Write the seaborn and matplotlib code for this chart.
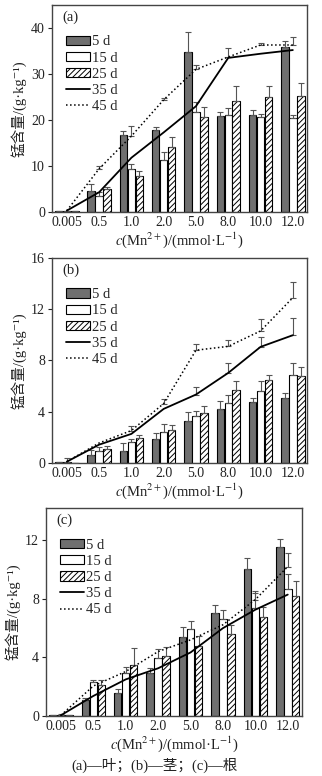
import numpy as np
import pandas as pd
import matplotlib
matplotlib.use("Agg")
import matplotlib.pyplot as plt
import seaborn as sns
from matplotlib.patches import Patch
from matplotlib.lines import Line2D

sns.set_theme(style="white")
plt.rcParams['font.family'] = ['Liberation Serif', 'DejaVu Serif', 'Noto Sans CJK SC']
plt.rcParams['mathtext.fontset'] = 'stix'
plt.rcParams['hatch.linewidth'] = 0.7

categories = ['0.005', '0.5', '1.0', '2.0', '5.0', '8.0', '10.0', '12.0']
bar_series = ['5 d', '15 d', '25 d']
line_series = ['35 d', '45 d']

# (a) leaf
a_bars = {
    '5 d':  [0.2, 4.5, 16.7, 17.8, 34.7, 20.9, 21.1, 35.9],
    '15 d': [0.2, 3.4, 9.4, 11.3, 21.8, 21.1, 20.7, 20.5],
    '25 d': [0.2, 4.9, 7.9, 14.2, 20.7, 24.1, 24.9, 25.2],
}
a_bar_err = {
    '5 d':  [0.0, 1.5, 0.8, 0.7, 4.4, 0.8, 1.0, 1.3],
    '15 d': [0.0, 1.0, 1.1, 1.7, 2.1, 1.4, 0.5, 0.6],
    '25 d': [0.0, 0.6, 1.0, 2.1, 2.1, 3.2, 2.4, 2.9],
}
a_lines = {
    '35 d': [0.3, 4.3, 11.8, 17.3, 23.0, 33.5, 34.4, 35.2],
    '45 d': [0.3, 9.4, 16.5, 24.4, 31.0, 33.7, 36.3, 36.3],
}
a_line_err = {
    '35 d': [0, 0, 0, 0, 0, 0, 0, 0],
    '45 d': [0, 0.5, 2.3, 0.3, 1.0, 2.0, 0.5, 1.8],
}

# (b) stem
b_bars = {
    '5 d':  [0.05, 0.65, 0.96, 1.87, 3.28, 4.22, 4.77, 5.08],
    '15 d': [0.10, 0.90, 1.64, 2.40, 3.65, 4.69, 5.65, 6.85],
    '25 d': [0.02, 1.10, 1.93, 2.55, 3.90, 5.73, 6.51, 6.77],
}
b_bar_err = {
    '5 d':  [0.0, 0.35, 0.60, 0.47, 0.68, 0.60, 0.31, 0.39],
    '15 d': [0.3, 0.35, 0.26, 0.65, 0.39, 0.61, 0.73, 0.95],
    '25 d': [0.0, 0.20, 0.27, 0.40, 0.58, 0.65, 0.39, 0.73],
}
b_lines = {
    '35 d': [0.1, 1.43, 2.27, 4.22, 5.34, 7.03, 9.06, 9.97],
    '45 d': [0.1, 1.56, 2.53, 4.64, 8.80, 9.10, 10.30, 12.90],
}
b_line_err = {
    '35 d': [0, 0, 0, 0, 0.60, 0.77, 0.74, 1.33],
    '45 d': [0, 0, 0.37, 0.36, 0.50, 0.50, 0.95, 1.20],
}

# (c) root
c_bars = {
    '5 d':  [0.05, 1.10, 1.55, 2.92, 5.39, 7.03, 10.05, 11.53],
    '15 d': [0.05, 2.30, 2.92, 3.95, 5.94, 6.62, 7.37, 8.68],
    '25 d': [0.05, 2.12, 3.45, 4.11, 4.79, 5.59, 6.76, 8.17],
}
c_bar_err = {
    '5 d':  [0.0, 0.10, 0.28, 0.34, 0.68, 0.55, 0.75, 0.59],
    '15 d': [0.1, 0.17, 0.46, 0.62, 0.52, 0.64, 1.15, 1.05],
    '25 d': [0.0, 0.35, 1.18, 0.57, 0.69, 0.64, 0.68, 1.03],
}
c_lines = {
    '35 d': [0.05, 1.37, 2.50, 3.26, 4.34, 6.00, 7.26, 8.29],
    '45 d': [0.05, 2.05, 3.04, 4.40, 5.20, 6.23, 7.95, 10.20],
}
c_line_err = {
    '35 d': [0, 0, 0, 0, 0, 0, 0, 0],
    '45 d': [0, 0, 0, 0, 0, 0, 0.45, 0.90],
}

panels = [
    ('(a)', a_bars, a_bar_err, a_lines, a_line_err, [0, 10, 20, 30, 40], 45),
    ('(b)', b_bars, b_bar_err, b_lines, b_line_err, [0, 4, 8, 12, 16], 16),
    ('(c)', c_bars, c_bar_err, c_lines, c_line_err, [0, 4, 8, 12], 14.2),
]
axes_rects = [
    [0.1615, 0.7268, 0.792, 0.2668],
    [0.1615, 0.4034, 0.792, 0.2642],
    [0.1429, 0.0773, 0.795, 0.2680],
]

fig = plt.figure(figsize=(3.22, 7.76), dpi=100)
bar_colors = {'5 d': '#6f6f6f', '15 d': 'white', '25 d': 'white'}
line_styles = {'35 d': '-', '45 d': ':'}
line_widths = {'35 d': 1.3, '45 d': 1.1}
err_color = '#555555'

for (tag, bars, bar_err, lines, line_err, yticks, ytop), rect in zip(panels, axes_rects):
    ax = fig.add_axes(rect)
    rows = []
    for s in bar_series:
        for c, v in zip(categories, bars[s]):
            rows.append({'conc': c, 'series': s, 'value': v})
    df = pd.DataFrame(rows)
    sns.barplot(data=df, x='conc', y='value', hue='series', order=categories,
                hue_order=bar_series, palette=bar_colors, width=0.74, gap=0.06,
                edgecolor='black', linewidth=0.8, errorbar=None, legend=False,
                saturation=1, ax=ax)
    for cont, s in zip(ax.containers, bar_series):
        xs, ys = [], []
        for patch in cont:
            if s == '25 d':
                patch.set_hatch('//////')
            xs.append(patch.get_x() + patch.get_width() / 2)
            ys.append(patch.get_height())
        errs = np.array(bar_err[s])
        ax.errorbar(xs, ys, yerr=[np.zeros_like(errs), errs], fmt='none',
                    ecolor=err_color, elinewidth=0.8, capsize=2, capthick=0.8, zorder=3)

    pos = np.arange(len(categories))
    for s in line_series:
        sns.lineplot(x=pos, y=lines[s], color='black', linestyle=line_styles[s],
                     linewidth=line_widths[s], ax=ax, zorder=4)
        errs = np.array(line_err[s])
        m = errs > 0
        ax.errorbar(pos[m], np.array(lines[s])[m], yerr=[np.zeros(m.sum()), errs[m]],
                    fmt='none', ecolor=err_color, elinewidth=0.8, capsize=2,
                    capthick=0.8, zorder=3)

    ax.set_xlim(-0.46, 7.44)
    ax.set_ylim(0, ytop)
    ax.set_yticks(yticks)
    ax.set_xticks(pos)
    ax.set_xticklabels(categories)
    ax.tick_params(axis='x', length=0, labelsize=10, pad=3, colors='#222222')
    ax.tick_params(axis='y', length=3, width=0.8, direction='out', left=True,
                   labelsize=10, pad=2, colors='#222222')
    for sp in ax.spines.values():
        sp.set_color('#444444')
        sp.set_linewidth(1.0)
    ax.set_xlabel(r'$c$(Mn$^{2+}$)/(mmol·L$^{-1}$)', fontsize=10.5, labelpad=1, color='#222222')
    ax.set_ylabel('锰含量/(g·kg⁻¹)', fontsize=10.5, labelpad=3, color='#222222')
    ax.text(0.04, 0.975, tag, transform=ax.transAxes, ha='left', va='top',
            fontsize=10.5, color='#222222')

    handles = [Patch(facecolor=bar_colors[s], edgecolor='black', linewidth=0.8,
                     hatch='//////' if s == '25 d' else None) for s in bar_series]
    handles += [Line2D([0], [0], color='black', linestyle=line_styles[s],
                       linewidth=line_widths[s]) for s in line_series]
    ax.legend(handles, bar_series + line_series, loc='upper left',
              bbox_to_anchor=(0.05, 0.86), frameon=False, fontsize=10.5,
              handlelength=1.6, handleheight=0.6, handletextpad=0.15,
              labelspacing=0.22, borderpad=0.1, borderaxespad=0)

fig.text(0.48, 0.014, '(a)—叶；(b)—茎；(c)—根', ha='center', va='center',
         fontsize=10.5, color='#222222')

fig.savefig('out.png', dpi=100)
